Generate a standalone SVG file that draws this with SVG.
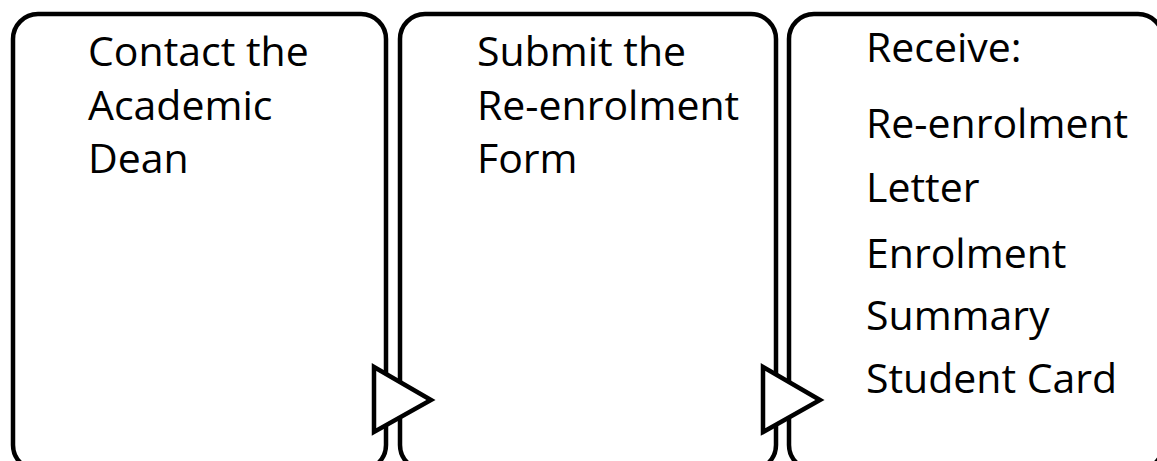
<svg xmlns="http://www.w3.org/2000/svg" width="1157" height="461" viewBox="0 0 1157 461">
<style>
.box{fill:#fff;stroke:#000;stroke-width:4.5}
.arr{fill:#fff;stroke:#000;stroke-width:4.5;stroke-linejoin:miter}
text{font-family:"Open Sans","Noto Sans",sans-serif;font-size:41px;fill:#000}
</style>
<rect width="1157" height="461" fill="#fff"/>
<g id="node1">
<rect class="box" x="13" y="14" width="373" height="456" rx="25"/>
<text x="88" y="66">Contact the</text>
<text x="88" y="120">Academic</text>
<text x="88" y="173">Dean</text>
</g>
<g id="node2">
<rect class="box" x="400" y="14" width="376" height="456" rx="25"/>
<text x="477" y="66">Submit the</text>
<text x="477" y="120">Re-enrolment</text>
<text x="477" y="173">Form</text>
</g>
<g id="node3">
<rect class="box" x="789" y="14" width="374" height="456" rx="25"/>
<text x="866" y="62">Receive:</text>
<text x="866" y="138">Re-enrolment</text>
<text x="866" y="202">Letter</text>
<text x="866" y="268">Enrolment</text>
<text x="866" y="330">Summary</text>
<text x="866" y="393">Student Card</text>
</g>
<g id="connectors">
<polygon class="arr" points="374,367 431,400 374,432"/>
<polygon class="arr" points="763,367 820,400 763,432"/>
</g>
</svg>
